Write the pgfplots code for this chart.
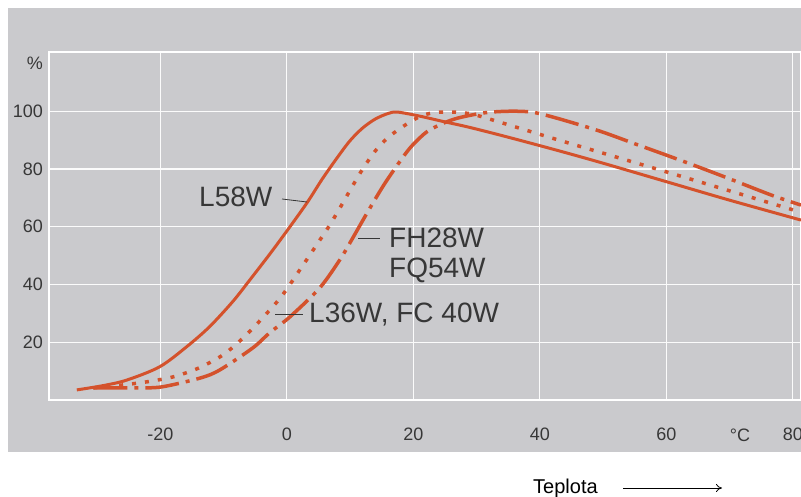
\documentclass[border=0pt]{standalone}
\usepackage{pgfplots}
\pgfplotsset{compat=1.18}
\usetikzlibrary{arrows.meta}
\usepackage{fontspec}
\setmainfont{Liberation Sans}
\definecolor{bggray}{RGB}{202,202,205}
\definecolor{curve}{RGB}{212,82,44}
\definecolor{txt}{RGB}{55,55,55}
\begin{document}
\begin{tikzpicture}[x=1pt,y=1pt]
\path[use as bounding box] (0,0) rectangle (801,496);
\clip (0,0) rectangle (801,496);
\fill[bggray] (8,44) rectangle (801,488);
\begin{axis}[
  at={(49pt,96pt)}, anchor=south west,
  width=752pt, height=348pt, scale only axis,
  xmin=-37.6, xmax=81.3, ymin=0, ymax=120.5,
  axis line style={white, line width=1.1pt},
  grid=major, grid style={white!97!gray, line width=1.1pt},
  tick style={draw=none},
  xtick={-20,0,20,40,60,80},
  xticklabels={-20,0,20,40,60,80},
  ytick={20,40,60,80,100},
  yticklabels={20,40,60,80,100},
  xticklabel style={font=\fontsize{18}{20}\selectfont, text=txt, inner sep=0pt, anchor=north, yshift=-28pt},
  yticklabel style={font=\fontsize{18}{20}\selectfont, text=txt, inner sep=0pt, anchor=east, xshift=-6pt},
]
\addplot[curve, line width=3pt, smooth] coordinates {
(-33.2,3.5) (-29,5.0) (-25.3,6.9) (-20.1,11.5) (-15.8,18.5) (-12.2,25.4)
(-8.5,34.2) (-5.8,41.7) (-2.7,50.5) (0,58.5) (3.2,68.3) (5.6,76.5) (8,84)
(10,89.8) (12,94.2) (14,97.3) (16,99.2) (17.5,99.7) (21,98.3) (24.6,96.5)
(28.9,94.4) (35,91) (43,86.3) (50,82) (60,75.6) (70,69.2) (81.3,62.3)};
\addplot[curve, line width=3.5pt, smooth, line cap=butt, dash pattern=on 4pt off 9pt] coordinates {
(-30.6,4.2) (-26,5.2) (-22.1,6.3) (-18,8) (-14,11) (-10.1,15.6) (-6.9,21.5)
(-3.8,28.5) (-0.8,36) (2.5,46.5) (5.2,55.3) (6.8,60.6) (8.4,66.5) (10,72.6)
(11.8,79.3) (13.9,86) (15.8,90.5) (17.9,94) (19.9,96.8) (21.5,98.6)
(23.7,99.6) (26.2,99.7) (28.4,99.3) (30.5,98.3) (43,90) (60,79) (81.3,65)};
\addplot[curve, line width=3.5pt, smooth, line cap=butt, dash pattern=on 34pt off 7pt on 4pt off 7pt] coordinates {
(-30.6,4.2) (-23.2,4.2) (-19.6,4.6) (-13.7,7.6) (-10.6,10.4) (-5.4,18)
(-2.7,23.3) (0.5,28.8) (5.2,38.8) (8.4,48.6) (10.4,56) (13.1,66.3)
(15.5,75) (18.3,83.9) (19.9,88.3) (22.1,92.8) (24.6,95.7) (27,97.6)
(30.5,99.2) (33,99.8) (36,100) (39,99.6) (43,97.4) (49.5,93.1) (55.3,88.5)
(60,84.8) (65.2,80.6) (70,76.6) (76.8,70.8) (81.3,67.5)};
\end{axis}
% axis annotations
\node[anchor=base east, inner sep=0pt, text=txt, font=\fontsize{18}{20}\selectfont] at (43,426) {\%};
\node[anchor=base, inner sep=0pt, text=txt, font=\fontsize{18}{20}\selectfont] at (740,54.5) {°C};
% curve labels
\begin{scope}[every node/.style={anchor=base west, inner sep=0pt, text=txt, font=\fontsize{28}{30}\selectfont}]
\node at (199,289) {L58W};
\node at (389,248) {FH28W};
\node at (389,218) {FQ54W};
\node at (309,173) {L36W, FC 40W};
\end{scope}
\draw[txt, line width=0.8pt] (282,297) -- (307,294);
\draw[txt, line width=0.8pt] (358,258) -- (380,258);
\draw[txt, line width=0.8pt] (275,182) -- (303,182);
% x axis caption
\node[anchor=base west, inner sep=0pt, font=\fontsize{20}{22}\selectfont] at (533,3) {Teplota};
\draw[black, line width=0.8pt, -{To[length=6pt,width=8pt]}] (623,8) -- (722,8);
\end{tikzpicture}
\end{document}
